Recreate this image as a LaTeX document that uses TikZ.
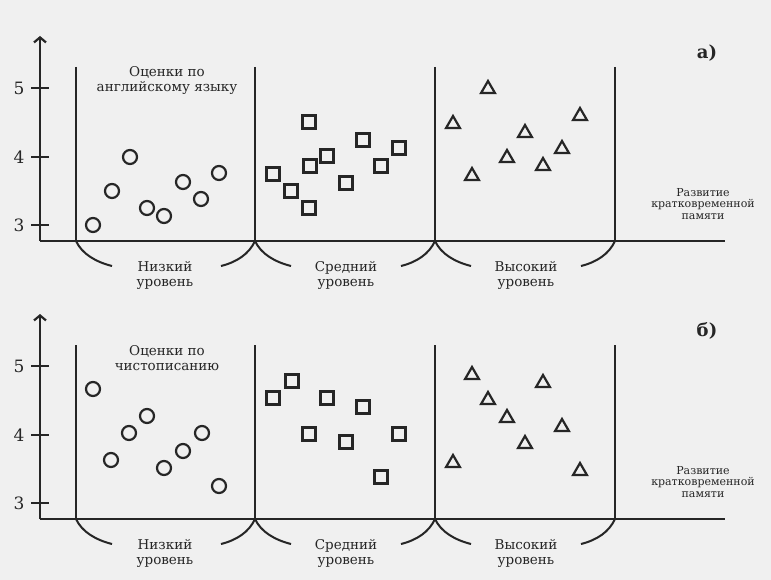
\documentclass[tikz,border=0pt]{standalone}
\usepackage{fontspec}
\setmainfont{DejaVu Serif}
\usetikzlibrary{shapes.geometric,arrows.meta}

\begin{document}
\begin{tikzpicture}[x=1pt,y=-1pt,black!85]
\tikzstyle{every node}=[inner sep=0pt];
\tikzstyle{axisline}=[line width=2.2pt];
\tikzstyle{brace}=[line width=2pt];
\tikzstyle{lowmark}=[draw,circle,line width=2.2pt,minimum size=14pt];
\tikzstyle{midmark}=[draw,rectangle,line width=2.2pt,minimum size=13pt];
\tikzstyle{highmark}=[draw,regular polygon,regular polygon sides=3,line width=2.2pt,minimum size=16pt];
\tikzstyle{levellabel}=[align=center,font=\fontsize{13.5}{15}\selectfont];
\tikzstyle{memlabel}=[align=center,font=\fontsize{11}{11.5}\selectfont];
\tikzstyle{ticklabel}=[font=\fontsize{17}{17}\selectfont];
\tikzstyle{taglabel}=[font=\bfseries\fontsize{18}{18}\selectfont];
\fill[black!6] (0,0) rectangle (771,580);
\useasboundingbox (0,0) rectangle (771,580);
\foreach \p/\dy/\subj/\tag in {a/0/английскому языку/а),b/278/чистописанию/б)}{
\begin{scope}[yshift=-\dy pt]
	\coordinate (o-\p) at (40,241);
	\coordinate (top-\p) at (40,36);
	\coordinate (end-\p) at (725,241);
	\draw[axisline,-{Straight Barb[length=5pt,width=12pt]}] (o-\p) -- (top-\p);
	\draw[axisline] (o-\p) -- (end-\p);
	\foreach \v/\y in {5/88,4/157,3/225}{
		\draw[axisline] (31,\y) -- (49,\y);
		\node[ticklabel] (t\v-\p) at (19,\y) {\v};
	}
	\foreach \x [count=\i] in {76,255,435,615}{
		\coordinate (d\i-\p) at (\x,67);
		\coordinate (f\i-\p) at (\x,241);
		\draw[axisline] (d\i-\p) -- (f\i-\p);
	}
	\foreach \i/\j in {1/2,2/3,3/4}{
		\draw[brace] (f\i-\p) .. controls ++(6,13) and ++(-16,-4) .. ++(36,25);
		\draw[brace] (f\j-\p) .. controls ++(-6,13) and ++(16,-4) .. ++(-34,25);
	}
	\node[levellabel] (low-\p) at (165,275) {Низкий\\уровень};
	\node[levellabel] (mid-\p) at (346,275) {Средний\\уровень};
	\node[levellabel] (high-\p) at (526,275) {Высокий\\уровень};
	\node[levellabel] (subj-\p) at (167,80) {Оценки по\\\subj};
	\node[memlabel] (mem-\p) at (703,204) {Развитие\\кратковременной\\памяти};
	\node[taglabel] (tag-\p) at (707,53) {\tag};
\end{scope}
}
\foreach \x/\y [count=\i] in {93/225,112/191,130/157,147/208,164/216,183/182,201/199,219/173}
	\node[lowmark] (ca\i) at (\x,\y) {};
\foreach \x/\y [count=\i] in {309/122,363/140,399/148,327/156,310/166,381/166,273/174,346/183,291/191,309/208}
	\node[midmark] (sa\i) at (\x,\y) {};
\foreach \x/\y [count=\i] in {488/89,453/124,580/116,525/133,562/149,507/158,543/166,472/176}
	\node[highmark] (ta\i) at (\x,\y) {};
\foreach \x/\y [count=\i] in {93/389,111/460,129/433,147/416,164/468,183/451,202/433,219/486}
	\node[lowmark] (cb\i) at (\x,\y) {};
\foreach \x/\y [count=\i] in {292/381,273/398,327/398,363/407,309/434,399/434,346/442,381/477}
	\node[midmark] (sb\i) at (\x,\y) {};
\foreach \x/\y [count=\i] in {472/375,543/383,488/400,507/418,562/427,525/444,453/463,580/471}
	\node[highmark] (tb\i) at (\x,\y) {};
\end{tikzpicture}
\end{document}
